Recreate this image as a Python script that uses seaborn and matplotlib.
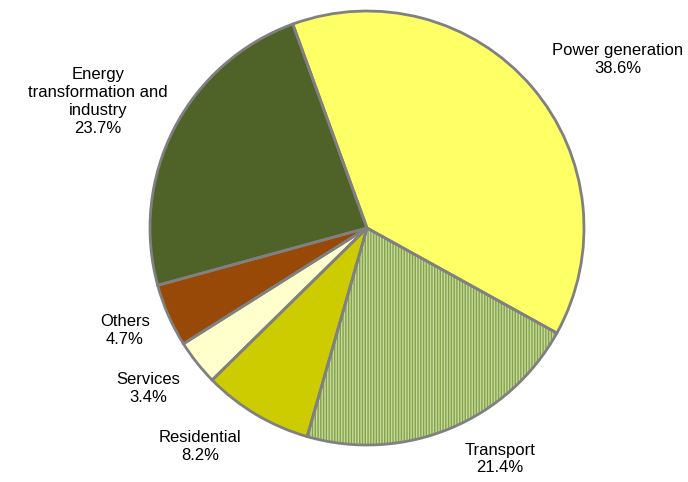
import matplotlib
matplotlib.use("Agg")
import matplotlib.pyplot as plt
import seaborn as sns

categories = ["Power generation", "Transport", "Residential", "Services", "Others",
              "Energy\ntransformation and\nindustry"]
shares = [38.6, 21.4, 8.2, 3.4, 4.7, 23.7]
colors = ["#FFFF66", "#C6DA9A", "#CCCC00", "#FFFFCC", "#984807", "#4F6228"]

sns.set_theme(style="white")
plt.rcParams['font.family'] = ['Liberation Sans', 'DejaVu Sans']
plt.rcParams['hatch.linewidth'] = 1.0

W, H = 688, 482
fig = plt.figure(figsize=(W / 100, H / 100), dpi=100)
cx, cy, R = 367, 228, 217
ax = fig.add_axes([(cx - R) / W, (H - cy - R) / H, 2 * R / W, 2 * R / H])

start = 110
fills, _ = ax.pie(shares, colors=colors, startangle=start, counterclock=False,
                  radius=1, wedgeprops=dict(linewidth=0))
fills[1].set_hatch("||||||")
fills[1].set_edgecolor("#84A24A")
fills[1].set_linewidth(0)
ax.pie(shares, startangle=start, counterclock=False, radius=1,
       wedgeprops=dict(fill=False, edgecolor="#808080", linewidth=2))

ax.set_xlim(-1.0, 1.0)
ax.set_ylim(-1.0, 1.0)
ax.set_aspect("equal")
ax.axis("off")

label_px = [(618, 60), (500, 459), (200, 446), (148, 388), (125, 331), (98, 102)]
for name, val, (px, py) in zip(categories, shares, label_px):
    x = (px - cx) / R
    y = (cy - py) / R
    ax.text(x, y, f"{name}\n{val:.1f}%", ha="center", va="center", fontsize=12,
            color="black", linespacing=1.25, clip_on=False)

fig.savefig("out.png", dpi=100, facecolor="white")
